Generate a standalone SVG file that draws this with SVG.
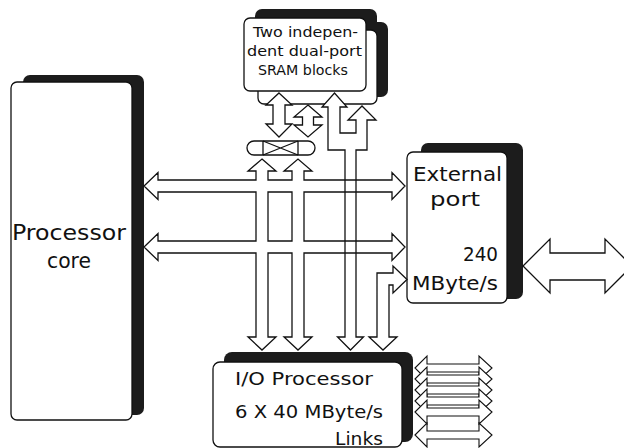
<svg xmlns="http://www.w3.org/2000/svg" width="624" height="448" viewBox="0 0 624 448">
  <style>
    .shadow { fill: #1c1c1c; }
    .box { fill: #fff; stroke: #111; stroke-width: 1.3; }
    .arrow { fill: #fff; stroke: #111; stroke-width: 1.3; stroke-linejoin: miter; }
    .arrow-fill { fill: #fff; stroke: none; }
    .arrow-line { fill: none; stroke: #111; stroke-width: 1.3; stroke-linejoin: miter; }
    .link { fill: #fff; stroke: #111; stroke-width: 1.1; stroke-linejoin: miter; }
    .lbl { font-family: "DejaVu Sans", "Liberation Sans", sans-serif; fill: #111; }
  </style>

  <!-- Processor core -->
  <g id="processor-core">
    <rect class="shadow" x="23" y="75" width="121" height="340" rx="7"/>
    <rect class="box" x="11" y="82" width="121" height="338" rx="6"/>
    <text class="lbl" x="69" y="240" font-size="21" text-anchor="middle" textLength="114" lengthAdjust="spacingAndGlyphs">Processor</text>
    <text class="lbl" x="69" y="268" font-size="21" text-anchor="middle" textLength="44" lengthAdjust="spacingAndGlyphs">core</text>
  </g>

  <!-- Two stacked SRAM blocks: shadows first, then the back face, then the front face -->
  <g id="sram-blocks">
    <rect class="shadow" x="255" y="9" width="122" height="74" rx="7"/>
    <rect class="shadow" x="267" y="22" width="121" height="75" rx="7"/>
    <rect class="box" x="258" y="30" width="119" height="74" rx="6"/>
    <rect class="box" x="244" y="18" width="122" height="73" rx="6"/>
    <text class="lbl" x="305.5" y="37" font-size="14" text-anchor="middle" textLength="105" lengthAdjust="spacingAndGlyphs">Two indepen-</text>
    <text class="lbl" x="304.5" y="56" font-size="14" text-anchor="middle" textLength="115" lengthAdjust="spacingAndGlyphs">dent dual-port</text>
    <text class="lbl" x="303" y="75" font-size="14" text-anchor="middle" textLength="90" lengthAdjust="spacingAndGlyphs">SRAM blocks</text>
  </g>

  <!-- External port -->
  <g id="external-port">
    <rect class="shadow" x="421" y="143" width="102" height="156" rx="7"/>
    <rect class="box" x="407" y="152" width="100" height="151" rx="6"/>
    <text class="lbl" x="457.5" y="181" font-size="20" text-anchor="middle" textLength="89" lengthAdjust="spacingAndGlyphs">External</text>
    <text class="lbl" x="455" y="206" font-size="20" text-anchor="middle" textLength="50" lengthAdjust="spacingAndGlyphs">port</text>
    <text class="lbl" x="498" y="261" font-size="20" text-anchor="end" textLength="35" lengthAdjust="spacingAndGlyphs">240</text>
    <text class="lbl" x="498" y="290" font-size="20" text-anchor="end" textLength="86" lengthAdjust="spacingAndGlyphs">MByte/s</text>
  </g>

  <!-- I/O processor -->
  <g id="io-processor">
    <rect class="shadow" x="224" y="352" width="189" height="90" rx="8"/>
    <rect class="box" x="213" y="362" width="189" height="85" rx="7"/>
    <text class="lbl" x="304" y="385" font-size="18" text-anchor="middle" textLength="138" lengthAdjust="spacingAndGlyphs">I/O Processor</text>
    <text class="lbl" x="383" y="418" font-size="18" text-anchor="end" textLength="148" lengthAdjust="spacingAndGlyphs">6 X 40 MByte/s</text>
    <text class="lbl" x="383" y="445" font-size="18" text-anchor="end" textLength="48" lengthAdjust="spacingAndGlyphs">Links</text>
  </g>

  <!-- Crossbar switch between the SRAM ports and the internal buses -->
  <g id="crossbar-switch">
    <rect class="box" x="247" y="141" width="68" height="14" rx="7"/>
    <path d="M263,141 V155 M298,141 V155 M263,141 L298,155 M263,155 L298,141" fill="none" stroke="#111" stroke-width="1.3"/>
  </g>

  <g id="connectors">
    <!-- SRAM ports to switch -->
    <path class="arrow" d="M279,93 L292,105 H285 V124 H292 L279,137 L266,124 H273 V105 H266 Z"/>
    <path class="arrow" d="M308,105 L322,117 H313.5 V125 H322 L308,137 L294,125 H302.5 V117 H294 Z"/>

    <!-- forked path from both SRAM blocks down to the I/O processor (filled first, outlined after the buses) -->
    <path class="arrow-fill" d="M345,337 V150 H328 V107 H322 L334.5,93 L347,107 H340 V133 H356 V120 H348 L362,106 L376,120 H367 V150 H356 V337 H363.5 L350.5,350 L337.5,337 Z"/>

    <!-- two horizontal buses joined with the two vertical switch/I-O links -->
    <path class="arrow" fill-rule="evenodd" d="
      M262,159 L276,171 H268 V180 H292 V171 H284 L298,159 L312,171 H304 V180
      H392 V172.5 L405,186 L392,199.5 V192 H304 V241
      H392 V233.5 L405,247 L392,260.5 V253 H304
      V337 H312 L298,350 L284,337 H292 V253 H268 V337 H276 L262,350 L248,337 H256 V253
      H158 V260.5 L144,247 L158,233.5 V241 H256 V192
      H158 V199.5 L144,186 L158,172.5 V180 H256 V171 H248 Z
      M268,192 H292 V241 H268 Z"/>

    <path class="arrow-line" d="M345,337 V150 H328 V107 H322 L334.5,93 L347,107 H340 V133 H356 V120 H348 L362,106 L376,120 H367 V150 H356 V337 H363.5 L350.5,350 L337.5,337 Z"/>

    <!-- I/O processor to external port -->
    <path class="arrow" d="M377,337 V273 H393 V266 L407,279.5 L393,293 V285 H389 V337 H397 L383,350 L369,337 Z"/>

    <!-- external port off-chip -->
    <path class="arrow" d="M523,266 L550,239 V253 H605 V239 L632,266 L605,293 V280 H550 V293 Z"/>

    <!-- six serial links -->
    <path class="link" d="M415,368 L427,356 V364 H479 V356 L492,368 L479,380 V372 H427 V380 Z"/>
    <path class="link" d="M415,379 L427,367 V375 H479 V367 L492,379 L479,391 V383 H427 V391 Z"/>
    <path class="link" d="M415,390 L427,378 V386 H479 V378 L492,390 L479,402 V394 H427 V402 Z"/>
    <path class="link" d="M415,401 L427,389 V397 H479 V389 L492,401 L479,413 V405 H427 V413 Z"/>
    <path class="link" d="M415,412 L427,400 V408 H479 V400 L492,412 L479,424 V416 H427 V424 Z"/>
    <path class="link" d="M415,435 L427,423 V431 H479 V423 L492,435 L479,447 V439 H427 V447 Z"/>
  </g>
</svg>
